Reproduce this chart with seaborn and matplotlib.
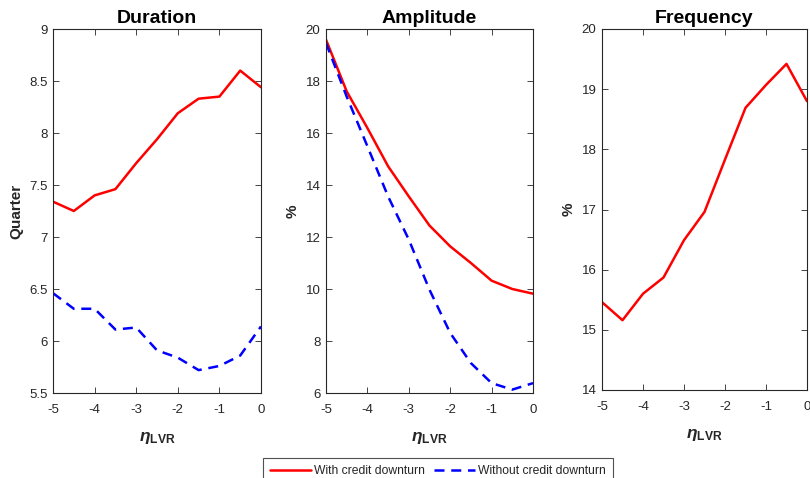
import numpy as np
import pandas as pd
import matplotlib
matplotlib.use("Agg")
import matplotlib.pyplot as plt
import seaborn as sns

# LVR sensitivity grid
eta_lvr = [-5, -4.5, -4, -3.5, -3, -2.5, -2, -1.5, -1, -0.5, 0]

# Cycle duration (quarters)
duration_with = [7.34, 7.25, 7.40, 7.46, 7.71, 7.94, 8.19, 8.33, 8.35, 8.60, 8.44]
duration_without = [6.46, 6.31, 6.31, 6.11, 6.13, 5.91, 5.84, 5.72, 5.76, 5.86, 6.14]

# Cycle amplitude (%)
amplitude_with = [19.59, 17.60, 16.19, 14.72, 13.56, 12.44, 11.64, 11.00, 10.32, 10.00, 9.82]
amplitude_without = [19.46, 17.40, 15.49, 13.56, 11.90, 9.97, 8.31, 7.15, 6.38, 6.13, 6.38]

# Downturn frequency (%)
frequency_with = [15.46, 15.16, 15.60, 15.87, 16.49, 16.96, 17.83, 18.69, 19.07, 19.42, 18.80]

titles = ["Duration", "Amplitude", "Frequency"]
ylabels = ["Quarter", "%", "%"]
ylims = [(5.5, 9), (6, 20), (14, 20)]
yticks = [[5.5, 6, 6.5, 7, 7.5, 8, 8.5, 9],
          [6, 8, 10, 12, 14, 16, 18, 20],
          [14, 15, 16, 17, 18, 19, 20]]
ytick_labels = [["5.5", "6", "6.5", "7", "7.5", "8", "8.5", "9"],
                ["6", "8", "10", "12", "14", "16", "18", "20"],
                ["14", "15", "16", "17", "18", "19", "20"]]
xticks = [-5, -4, -3, -2, -1, 0]
xtick_labels = ["-5", "-4", "-3", "-2", "-1", "0"]
label_with = "With credit downturn"
label_without = "Without credit downturn"

sns.set_theme(style="ticks")
plt.rcParams["font.family"] = ["Liberation Sans", "DejaVu Sans"]
plt.rcParams["mathtext.fontset"] = "custom"
plt.rcParams["mathtext.it"] = "Liberation Sans:italic:bold"
plt.rcParams["mathtext.bf"] = "Liberation Sans:bold"
plt.rcParams["mathtext.rm"] = "Liberation Sans"

dark = "#262626"
red = "#FF0000"
blue = "#0000FF"
dashed = (0, (4, 2.7))

fig = plt.figure(figsize=(8.1, 4.78), dpi=100)
W, H = 810, 478
boxes = [(53, 29, 261, 393), (326, 29, 533, 393), (602, 29, 807, 390)]
axes = []
for (x0, y0, x1, y1) in boxes:
    axes.append(fig.add_axes([x0 / W, 1 - y1 / H, (x1 - x0) / W, (y1 - y0) / H]))

series = [
    [(duration_with, red, "-", label_with), (duration_without, blue, dashed, label_without)],
    [(amplitude_with, red, "-", label_with), (amplitude_without, blue, dashed, label_without)],
    [(frequency_with, red, "-", label_with)],
]

for i, ax in enumerate(axes):
    for vals, col, ls, lab in series[i]:
        df = pd.DataFrame({"eta": eta_lvr, "value": vals})
        sns.lineplot(data=df, x="eta", y="value", ax=ax, color=col,
                     linestyle=ls, linewidth=1.8, label=lab)
    ax.set_xlim(-5, 0)
    ax.set_ylim(*ylims[i])
    ax.set_xticks(xticks)
    ax.set_xticklabels(xtick_labels)
    ax.set_yticks(yticks[i])
    ax.set_yticklabels(ytick_labels[i])
    ax.set_title(titles[i], fontsize=14, fontweight="bold", color="black", pad=4)
    ax.set_ylabel(ylabels[i], fontsize=11, fontweight="bold", color=dark, labelpad=4)
    ax.set_xlabel(r"$\eta_{\mathbf{LVR}}$", fontsize=12.5, color=dark, labelpad=10)
    ax.tick_params(direction="in", top=True, right=True, length=4, width=0.6,
                   labelsize=9.5, colors=dark)
    ax.tick_params(axis="x", pad=8)
    ax.tick_params(axis="y", pad=4)
    for sp in ax.spines.values():
        sp.set_color(dark)
        sp.set_linewidth(0.8)
        sp.set_visible(True)
    if ax.get_legend() is not None:
        ax.get_legend().remove()

handles, labels = axes[0].get_legend_handles_labels()
leg = fig.legend(handles, labels, loc="upper center", bbox_to_anchor=(438 / W, 1 - 458 / H),
                 ncol=2, fontsize=8.7, frameon=True, fancybox=False, handlelength=3.4,
                 handletextpad=0.25, columnspacing=0.7, borderpad=0.6, borderaxespad=0)
leg.get_frame().set_edgecolor(dark)
leg.get_frame().set_linewidth(0.8)
for t in leg.get_texts():
    t.set_color(dark)

fig.savefig("out.png", dpi=100, facecolor="white")
